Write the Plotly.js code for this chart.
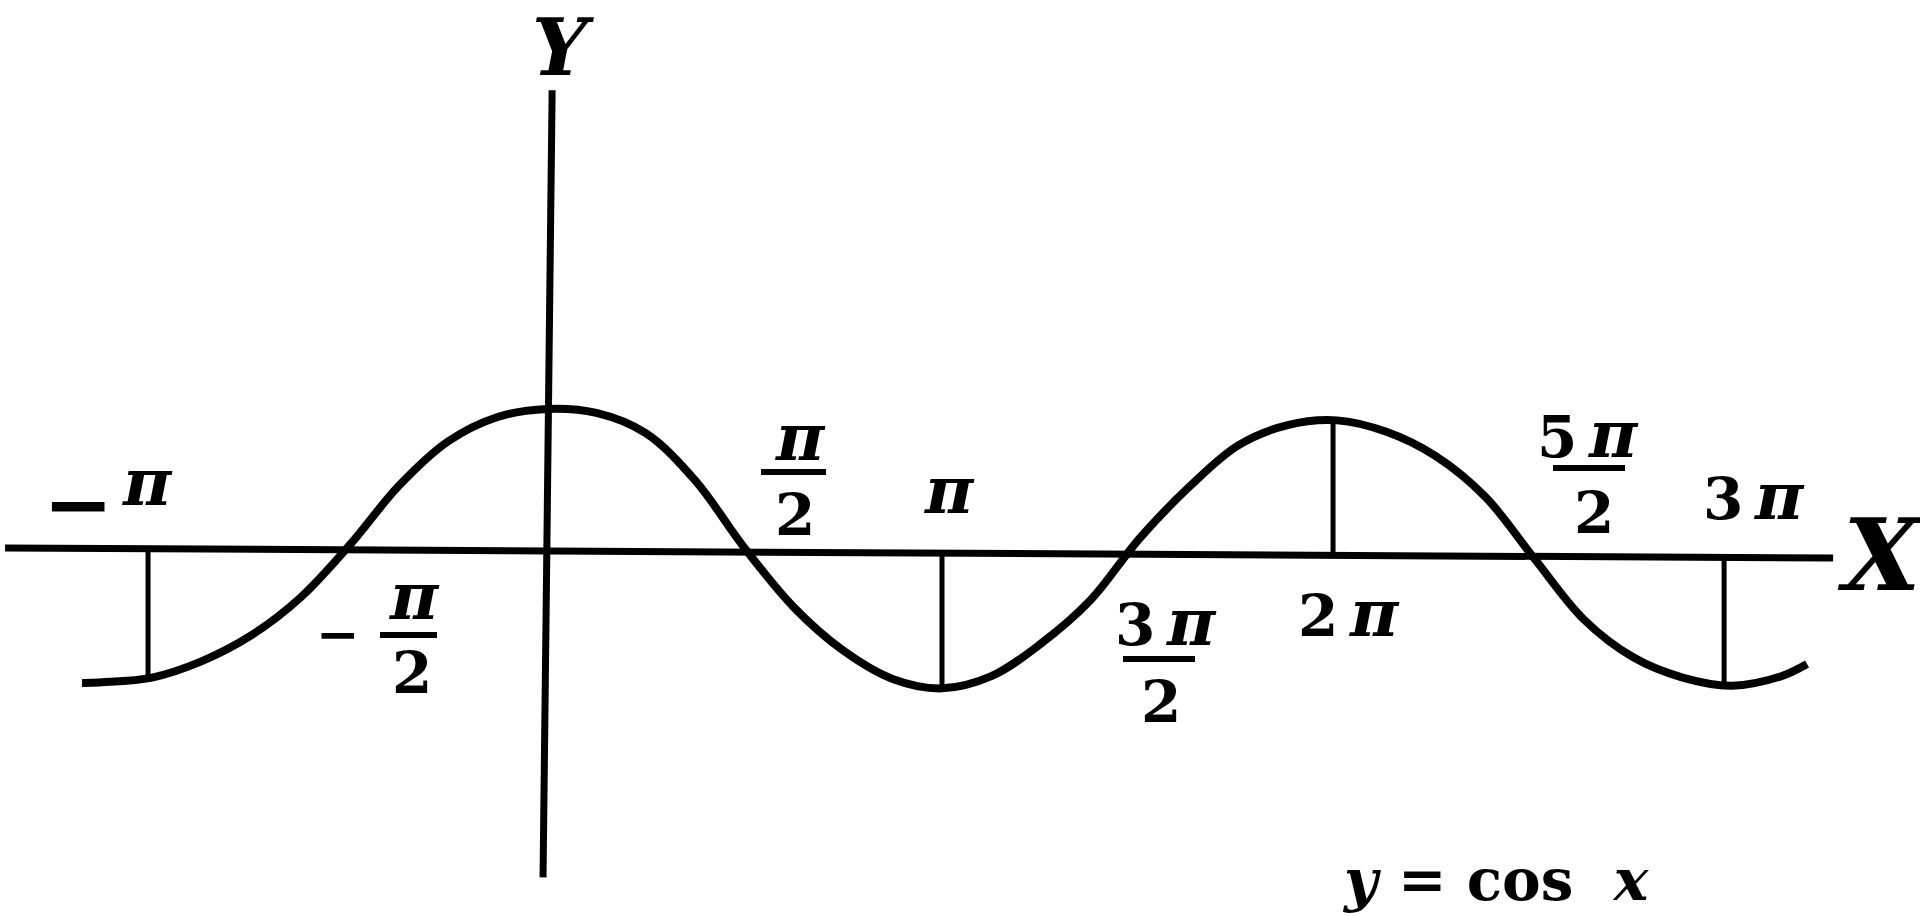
<!DOCTYPE html>
<html><head><meta charset="utf-8">
<script src="https://cdn.plot.ly/plotly-3.0.1.min.js"></script>
<style>html,body{margin:0;padding:0;background:#fff;overflow:hidden}#chart{width:1920px;height:916px}</style>
</head><body><div id="chart"></div>
<script>
// y = cos x, x in multiples of π
const curveX = [-1.177, -1.125, -1.0, -0.875, -0.75, -0.625, -0.5, -0.375, -0.25, -0.125, 0.0,
  0.125, 0.25, 0.375, 0.5, 0.625, 0.75, 0.875, 1.0, 1.125, 1.25, 1.375, 1.5, 1.625, 1.75, 1.875,
  2.0, 2.125, 2.25, 2.375, 2.5, 2.625, 2.75, 2.875, 3.0, 3.125, 3.19];
const curveY = [-0.97, -0.965, -0.93, -0.81, -0.62, -0.34, 0.05, 0.49, 0.82, 1.0, 1.06,
  1.03, 0.88, 0.53, 0.03, -0.41, -0.73, -0.94, -1.01, -0.92, -0.68, -0.36, 0.10, 0.48, 0.79, 0.94,
  0.975, 0.89, 0.71, 0.41, -0.05, -0.50, -0.78, -0.93, -0.99, -0.92, -0.83];
// ordinates drawn at -π, π, 2π, 3π
const ordX = [-1.01, 1.0, 1.99, 2.98];
const ordBase = [0.025, -0.01, -0.015, -0.04];
const ordY = [-0.93, -1.01, 0.975, -0.99];
// axes as drawn
const xAxisX = [-1.372, 3.256];
const xAxisY = [0.03, -0.045];
const yAxisX = [0.013, -0.010];
const yAxisY = [3.42, -2.41];
// labels
const P = '<span style="font-size:66px"><i>π</i></span>';
const tickText = [P, P, '2', P, '2', P, '3\u2009' + P, '2', '2\u2009' + P, '5\u2009' + P, '2', '3\u2009' + P];
const minusText = '\u2212';
const axisNames = ['<i>X</i>', '<i>Y</i>'];
const equation = '<i>y</i> = cos\u00A0\u00A0<i>x</i>';

const W = 1920, H = 916;
const X0 = 547, PXPI = 395, Y0 = 552, PXU = 135;
const xr = [-X0 / PXPI, (W - X0) / PXPI];
const yr = [-(H - Y0) / PXU, Y0 / PXU];
const fx = p => p / W, fy = p => 1 - p / H;

const black = '#000';
const traces = [];
traces.push({x: xAxisX, y: xAxisY, mode: 'lines', line: {color: black, width: 7}, hoverinfo: 'skip'});
traces.push({x: yAxisX, y: yAxisY, mode: 'lines', line: {color: black, width: 7}, hoverinfo: 'skip'});
const ox = [], oy = [];
ordX.forEach((v, i) => { ox.push(v, v, null); oy.push(ordBase[i], ordY[i], null); });
traces.push({x: ox, y: oy, mode: 'lines', line: {color: black, width: 5}, hoverinfo: 'skip', connectgaps: false});
traces.push({x: curveX, y: curveY, mode: 'lines', line: {color: black, width: 8, shape: 'spline', smoothing: 1}, hoverinfo: 'skip'});

const FONT = 'DejaVu Serif';
function ann(text, px, py, size, yanchor) {
  return {xref: 'paper', yref: 'paper', x: fx(px), y: fy(py), xanchor: 'center', yanchor: yanchor || 'middle',
    text: text, showarrow: false,
    font: {family: FONT, size: size, color: black, weight: 'bold'}};
}
// label placement (pixel centres)
const labelPos = [[147, 482], [414, 596], [412, 673], [800, 437], [795, 515], [949, 490],
  [1166, 622], [1161, 702], [1349, 613], [1588, 434], [1594, 513], [1754, 496]];
const annotations = tickText.map((t, i) => ann(t, labelPos[i][0], labelPos[i][1], 58));
annotations.push(ann(minusText, 78, 503, 84));
annotations.push(ann(minusText, 338, 633, 52));
annotations.push(ann(axisNames[0], 1880, 555, 100));
annotations.push(ann(axisNames[1], 563, 0, 78, 'top'));
annotations.push(ann(equation, 1496, 916, 58, 'bottom'));

const bars = [[380, 437, 635], [761, 826, 472], [1123, 1195, 659], [1553, 1625, 468]];
const shapes = bars.map(b => ({type: 'line', xref: 'paper', yref: 'paper', x0: fx(b[0]), x1: fx(b[1]), y0: fy(b[2]), y1: fy(b[2]),
  line: {color: black, width: 6}}));

const layout = {
  width: W, height: H, margin: {l: 0, r: 0, t: 0, b: 0},
  paper_bgcolor: '#fff', plot_bgcolor: '#fff', showlegend: false,
  xaxis: {range: xr, visible: false, fixedrange: true},
  yaxis: {range: yr, visible: false, fixedrange: true},
  annotations: annotations, shapes: shapes
};
Plotly.newPlot('chart', traces, layout, {displayModeBar: false, staticPlot: true});
</script></body></html>
